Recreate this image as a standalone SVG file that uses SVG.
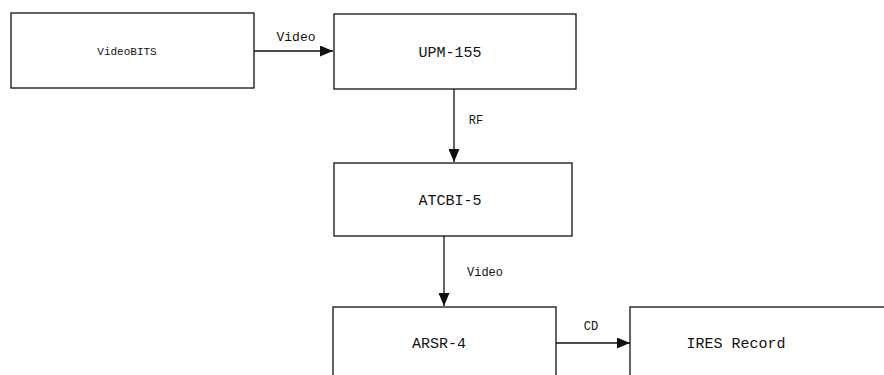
<svg xmlns="http://www.w3.org/2000/svg" width="884" height="375" viewBox="0 0 884 375">
<style>
.box{fill:#fff;stroke:#111;stroke-width:1.3}
.t{font-family:"Liberation Mono","DejaVu Sans Mono",monospace;fill:#111;text-anchor:middle}
.n{font-size:15px}
.s{font-size:13px}
.e{stroke:#111;stroke-width:1.3;fill:none}
</style>
<defs>
<marker id="ah" markerWidth="13" markerHeight="11" refX="13" refY="5.5" orient="auto" markerUnits="userSpaceOnUse">
<path d="M0,0 L13,5.5 L0,11 Z" fill="#111"/>
</marker>
</defs>
<rect width="884" height="375" fill="#fff"/>
<g id="videobits"><rect class="box" x="11" y="13" width="243" height="75"/><text class="t" x="127" y="55" font-size="11">VideoBITS</text></g>
<g id="upm155"><rect class="box" x="334" y="14" width="242" height="75"/><text class="t n" x="450" y="57">UPM-155</text></g>
<g id="atcbi5"><rect class="box" x="334" y="163" width="238" height="73"/><text class="t n" x="450" y="205">ATCBI-5</text></g>
<g id="arsr4"><rect class="box" x="333" y="307" width="223" height="90"/><text class="t n" x="439" y="348">ARSR-4</text></g>
<g id="ires"><rect class="box" x="630" y="307" width="270" height="90"/><text class="t n" x="736" y="348">IRES Record</text></g>
<g id="connectors">
<line class="e" x1="254" y1="51" x2="333" y2="51" marker-end="url(#ah)"/>
<text class="t s" x="296" y="41">Video</text>
<line class="e" x1="454" y1="89" x2="454" y2="162" marker-end="url(#ah)"/>
<text class="t" x="476" y="124" font-size="12">RF</text>
<line class="e" x1="444" y1="236" x2="444" y2="306" marker-end="url(#ah)"/>
<text class="t" x="485" y="276" font-size="12">Video</text>
<line class="e" x1="556" y1="343" x2="630" y2="343" marker-end="url(#ah)"/>
<text class="t" x="591" y="330" font-size="12">CD</text>
</g>
</svg>
